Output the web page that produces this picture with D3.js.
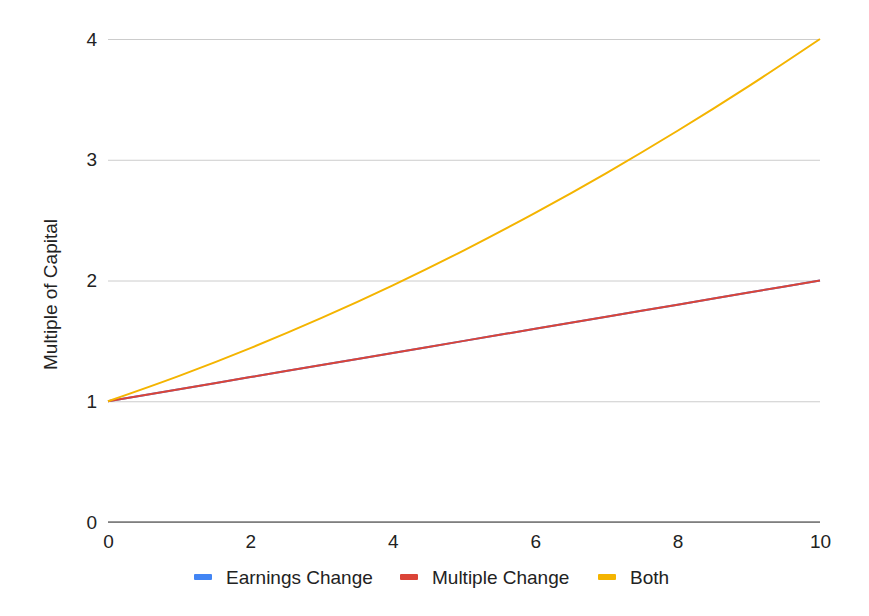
<!DOCTYPE html>
<html>
  <head>
    <title>Multiple of Capital</title>
    <script src="https://cdn.jsdelivr.net/npm/d3@7"></script>
    <style>
      body { margin: 0; background: #fff; }
      text { font-family: "Liberation Sans", Arial, sans-serif; }
    </style>
  </head>
  <body>
    <svg width="869" height="616" id="mainsvg"></svg>
    <script>
      // data: one point per year
      const years = [0, 1, 2, 3, 4, 5, 6, 7, 8, 9, 10];
      const earningsChange = [1, 1.1, 1.2, 1.3, 1.4, 1.5, 1.6, 1.7, 1.8, 1.9, 2];
      const multipleChange = [1, 1.1, 1.2, 1.3, 1.4, 1.5, 1.6, 1.7, 1.8, 1.9, 2];
      const both = [1, 1.21, 1.44, 1.69, 1.96, 2.25, 2.56, 2.89, 3.24, 3.61, 4];
      const xTicks = [0, 2, 4, 6, 8, 10];
      const yTicks = [0, 1, 2, 3, 4];
      const seriesNames = ['Earnings Change', 'Multiple Change', 'Both'];
      const seriesColors = ['#4285f4', '#db4437', '#f4b400'];

      const svg = d3.select('#mainsvg');
      const margin = {top: 39, right: 49, bottom: 94, left: 108};
      const width = +svg.attr('width');
      const height = +svg.attr('height');
      const innerWidth = width - margin.left - margin.right;
      const innerHeight = height - margin.top - margin.bottom;
      const fontSize = 19;
      const fontFamily = '"Liberation Sans", Arial, sans-serif';

      const xScale = d3.scaleLinear().domain([0, 10]).range([0, innerWidth]);
      const yScale = d3.scaleLinear().domain([0, 4]).range([innerHeight, 0]);

      const g = svg.append('g')
        .attr('transform', `translate(${margin.left}, ${margin.top})`);

      // gridlines + y labels
      const yAxis = d3.axisLeft(yScale).tickValues(yTicks).tickFormat(d3.format('d'))
        .tickSize(-innerWidth).tickPadding(11);
      const yAxisGroup = g.append('g').call(yAxis)
        .attr('font-size', fontSize).attr('font-family', fontFamily);
      yAxisGroup.select('.domain').remove();
      yAxisGroup.selectAll('line').attr('stroke', '#cccccc');
      yAxisGroup.selectAll('text').attr('fill', '#222');

      // x labels
      const xAxis = d3.axisBottom(xScale).tickValues(xTicks).tickSize(0).tickPadding(13);
      const xAxisGroup = g.append('g')
        .attr('transform', `translate(0, ${innerHeight})`)
        .call(xAxis)
        .attr('font-size', fontSize).attr('font-family', fontFamily);
      xAxisGroup.select('.domain').remove();
      xAxisGroup.selectAll('text').attr('fill', '#222');

      // baseline
      g.append('line')
        .attr('x1', 0).attr('x2', innerWidth)
        .attr('y1', yScale(0)).attr('y2', yScale(0))
        .attr('stroke', '#333').attr('stroke-width', 1);

      // y axis title
      g.append('text')
        .attr('transform', `translate(${-58}, ${innerHeight / 2 + 14}) rotate(-90)`)
        .attr('text-anchor', 'middle')
        .attr('dy', '0.35em')
        .attr('font-size', fontSize)
        .attr('fill', '#222')
        .text('Multiple of Capital');

      // lines
      const seriesValues = [earningsChange, multipleChange, both];
      const line = d3.line()
        .x((d, i) => xScale(years[i]))
        .y(d => yScale(d))
        .curve(d3.curveMonotoneX);

      seriesValues.forEach((vals, i) => {
        g.append('path')
          .datum(vals)
          .attr('d', line)
          .attr('fill', 'none')
          .attr('stroke', seriesColors[i])
          .attr('stroke-width', 2);
      });

      // legend
      const legendX = [194, 400, 598];
      const legend = svg.append('g').attr('transform', 'translate(0, 577)');
      seriesNames.forEach((name, i) => {
        const item = legend.append('g').attr('transform', `translate(${legendX[i]}, 0)`);
        item.append('rect')
          .attr('x', 0).attr('y', -3).attr('width', 18).attr('height', 6)
          .attr('rx', 1)
          .attr('fill', seriesColors[i]);
        item.append('text')
          .attr('x', 32).attr('y', 7)
          .attr('font-size', fontSize)
          .attr('fill', '#222')
          .text(name);
      });
    </script>
  </body>
</html>
